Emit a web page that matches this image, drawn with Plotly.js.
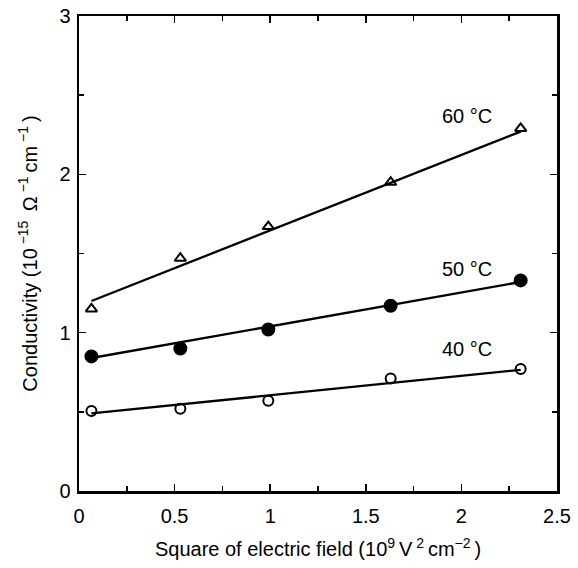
<!DOCTYPE html>
<html>
<head>
<meta charset="utf-8">
<script src="https://cdn.plot.ly/plotly-3.0.1.min.js"></script>
<style>
  html, body { margin: 0; padding: 0; background: #fff; }
  #chart { width: 578px; height: 568px; }
</style>
</head>
<body>
<div id="chart"></div>
<script>
// Square of electric field (10^9 V^2 cm^-2)
const fieldSq = [0.065, 0.53, 0.99, 1.63, 2.31];

// Measured conductivity (10^-15 ohm^-1 cm^-1)
const cond60 = [1.15, 1.47, 1.67, 1.95, 2.29];
const cond50 = [0.85, 0.90, 1.02, 1.17, 1.33];
const cond40 = [0.505, 0.52, 0.57, 0.71, 0.77];

// Straight-line fits drawn through each temperature series
const fitX = [0.065, 2.31];
const fit60 = [1.20, 2.27];
const fit50 = [0.84, 1.32];
const fit40 = [0.49, 0.765];

// Temperature labels
const labelText = ['60 °C', '50 °C', '40 °C'];
const labelX = [2.03, 2.03, 2.03];
const labelY = [2.37, 1.40, 0.90];

const black = '#000';
const family = 'Liberation Sans, Arial, sans-serif';

function fitLine(y) {
  return { x: fitX, y: y, mode: 'lines', line: { color: black, width: 2.3 }, hoverinfo: 'skip' };
}
function points(y, symbol, size) {
  return {
    x: fieldSq, y: y, mode: 'markers',
    marker: { symbol: symbol, size: size, color: black, line: { color: black, width: 2 } }
  };
}

const data = [
  fitLine(fit60), fitLine(fit50), fitLine(fit40),
  points(cond60, 'triangle-up-open', 10),
  points(cond50, 'circle', 12),
  points(cond40, 'circle-open', 10)
];

const tickFont = { family: family, size: 20, color: black };
const titleFont = { family: family, size: 20, color: black };

const axisCommon = {
  showline: true, linecolor: black, linewidth: 2.5,
  mirror: 'allticks', ticks: 'inside', ticklen: 7, tickwidth: 1.5, tickcolor: black,
  showgrid: false, zeroline: false, tickfont: tickFont
};

const layout = {
  width: 578, height: 568,
  margin: { l: 79, r: 21, t: 16, b: 77 },
  paper_bgcolor: '#fff', plot_bgcolor: '#fff',
  showlegend: false,
  xaxis: Object.assign({}, axisCommon, {
    range: [0, 2.5], tickmode: 'array',
    tickvals: [0, 0.5, 1, 1.5, 2, 2.5],
    ticktext: ['0', '0.5', '1', '1.5', '2', '2.5'],
    minor: { dtick: 0.25, ticks: 'inside', ticklen: 5, tickwidth: 1.5, tickcolor: black },
    ticklabelstandoff: 5,
    title: { text: 'Square of electric field (10<sup>9 </sup>V<sup> 2 </sup>cm<sup>−2 </sup>)', font: titleFont, standoff: 17 }
  }),
  yaxis: Object.assign({}, axisCommon, {
    range: [0, 3], tickmode: 'array',
    tickvals: [0, 1, 2, 3],
    ticktext: ['0', '1', '2', '3'],
    minor: { dtick: 0.5, ticks: 'inside', ticklen: 5, tickwidth: 1.5, tickcolor: black },
    ticklabelstandoff: 2,
    title: { text: 'Conductivity (10<sup> −15 </sup> Ω<sup> −1 </sup>cm<sup> −1 </sup>)', font: titleFont, standoff: 17 }
  }),
  annotations: labelText.map((t, i) => ({
    x: labelX[i], y: labelY[i], xref: 'x', yref: 'y', text: t, showarrow: false,
    font: { family: family, size: 20, color: black }
  }))
};

Plotly.newPlot('chart', data, layout, { displayModeBar: false, staticPlot: true });
</script>
</body>
</html>
